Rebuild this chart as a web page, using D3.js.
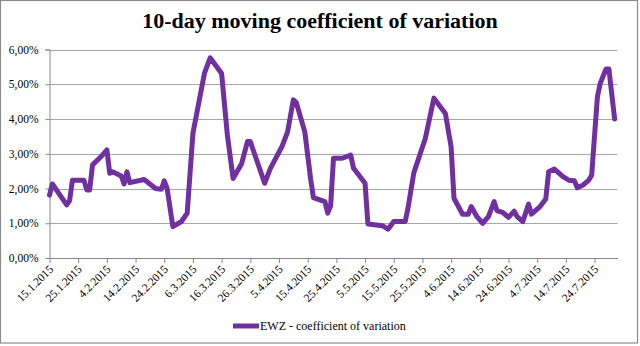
<!DOCTYPE html>
<html lang="en">
<head>
    <meta charset="UTF-8">
    <style>
        body { margin: 0; background: #fff; }
        text { font-family: "Liberation Serif", "Times New Roman", serif; fill: #000; }
        .title { font-size: 22px; font-weight: bold; text-anchor: middle; }
        .axis text { font-size: 11.5px; }
        .grid line { stroke: #a6a6a6; stroke-width: 1; }
    </style>
    <script src="https://d3js.org/d3.v7.min.js"></script>
    <title>10-day moving coefficient of variation</title>
</head>
<body>
    <svg width="640" height="346"></svg>

    <script>

        // EWZ 10-day moving coefficient of variation, in percent
        var dates = ["15.1.2015", "16.1.2015", "21.1.2015", "22.1.2015", "23.1.2015", "27.1.2015", "28.1.2015",
                     "29.1.2015", "30.1.2015", "2.2.2015", "4.2.2015", "5.2.2015", "6.2.2015", "9.2.2015",
                     "10.2.2015", "11.2.2015", "12.2.2015", "17.2.2015", "21.2.2015", "23.2.2015", "24.2.2015",
                     "25.2.2015", "27.2.2015", "2.3.2015", "4.3.2015", "6.3.2015", "10.3.2015", "12.3.2015",
                     "16.3.2015", "18.3.2015", "20.3.2015", "23.3.2015", "25.3.2015", "26.3.2015", "28.3.2015",
                     "31.3.2015", "2.4.2015", "6.4.2015", "8.4.2015", "10.4.2015", "11.4.2015", "14.4.2015",
                     "16.4.2015", "17.4.2015", "21.4.2015", "22.4.2015", "23.4.2015", "24.4.2015", "27.4.2015",
                     "30.4.2015", "1.5.2015", "5.5.2015", "6.5.2015", "11.5.2015", "13.5.2015", "15.5.2015",
                     "19.5.2015", "20.5.2015", "22.5.2015", "26.5.2015", "29.5.2015", "2.6.2015", "4.6.2015",
                     "5.6.2015", "8.6.2015", "10.6.2015", "11.6.2015", "13.6.2015", "15.6.2015", "17.6.2015",
                     "19.6.2015", "20.6.2015", "22.6.2015", "24.6.2015", "26.6.2015", "27.6.2015", "29.6.2015",
                     "1.7.2015", "2.7.2015", "5.7.2015", "7.7.2015", "8.7.2015", "10.7.2015", "13.7.2015",
                     "15.7.2015", "17.7.2015", "18.7.2015", "20.7.2015", "22.7.2015", "23.7.2015", "25.7.2015",
                     "26.7.2015", "28.7.2015", "29.7.2015", "31.7.2015"];

        var values = [1.81, 2.13, 1.53, 1.65, 2.24, 2.24, 1.96,
                      1.96, 2.68, 2.92, 3.11, 2.44, 2.48, 2.36,
                      2.13, 2.48, 2.17, 2.26, 2.00, 1.98, 2.22,
                      2.00, 0.90, 1.05, 1.29, 3.59, 5.31, 5.76,
                      5.31, 3.54, 2.29, 2.72, 3.35, 3.35, 2.87,
                      2.15, 2.58, 3.20, 3.63, 4.55, 4.48, 3.63,
                      2.29, 1.74, 1.62, 1.29, 1.50, 2.87, 2.87,
                      2.96, 2.58, 2.15, 0.98, 0.93, 0.83, 1.05,
                      1.05, 1.45, 2.45, 3.44, 4.60, 4.16, 3.20,
                      1.72, 1.26, 1.26, 1.48, 1.19, 1.00, 1.19,
                      1.62, 1.36, 1.31, 1.17, 1.35, 1.19, 1.05,
                      1.55, 1.26, 1.48, 1.70, 2.48, 2.56, 2.34,
                      2.24, 2.22, 2.02, 2.10, 2.24, 2.39, 4.64,
                      5.03, 5.44, 5.44, 4.00];

        var xTickLabels = ["15.1.2015", "25.1.2015", "4.2.2015", "14.2.2015", "24.2.2015", "6.3.2015", "16.3.2015",
                           "26.3.2015", "5.4.2015", "15.4.2015", "25.4.2015", "5.5.2015", "15.5.2015", "25.5.2015",
                           "4.6.2015", "14.6.2015", "24.6.2015", "4.7.2015", "14.7.2015", "24.7.2015"];
        var yTicks = [0, 1, 2, 3, 4, 5, 6];

        var seriesName = "EWZ - coefficient of variation";
        var titleText = "10-day moving coefficient of variation";

        var svg = d3.select("svg"),
            width = +svg.attr("width"),
            height = +svg.attr("height");

        var plot = { left: 49.5, right: 617.5, top: 49.5, bottom: 258 };

        var parseDate = d3.timeParse("%d.%m.%Y");
        var data = dates.map(function(d, i) { return { date: parseDate(d), value: values[i] }; });

        // comma decimal percent labels
        var locale = d3.formatLocale({ decimal: ",", thousands: ".", grouping: [3], currency: ["", ""] });
        var fmt = locale.format(".2f");

        var x = d3.scaleTime()
                  .domain([parseDate("15.1.2015"), parseDate("1.8.2015")])
                  .range([plot.left, plot.right]);

        var y = d3.scaleLinear()
                  .domain([0, 6])
                  .range([plot.bottom, plot.top]);

        // outer frame
        svg.append("rect")
           .attr("x", 0.5).attr("y", 0.5)
           .attr("width", 637).attr("height", 342.5)
           .attr("fill", "none")
           .attr("stroke", "#8c8c8c")
           .attr("stroke-width", 1.2);

        svg.append("text")
           .attr("class", "title")
           .attr("x", 320)
           .attr("y", 28)
           .text(titleText);

        // horizontal gridlines
        svg.append("g")
           .attr("class", "grid")
           .selectAll("line")
           .data(yTicks.slice(1))
           .enter().append("line")
           .attr("x1", plot.left).attr("x2", plot.right)
           .attr("y1", function(d) { return Math.round(y(d)) + 0.5; })
           .attr("y2", function(d) { return Math.round(y(d)) + 0.5; });

        // y axis
        var yAxis = svg.append("g")
           .attr("class", "axis")
           .attr("transform", "translate(" + plot.left + ",0)")
           .call(d3.axisLeft(y).tickValues(yTicks).tickSize(4).tickPadding(7)
                   .tickFormat(function(d) { return fmt(d) + "%"; }));
        yAxis.selectAll("path, line").attr("stroke", "#868686");
        yAxis.selectAll("text").attr("dy", "0.32em");

        // x axis with rotated date labels
        var xAxis = svg.append("g")
           .attr("class", "axis")
           .attr("transform", "translate(0," + plot.bottom + ")")
           .call(d3.axisBottom(x).tickValues(xTickLabels.map(parseDate)).tickSize(5).tickSizeOuter(0)
                   .tickFormat(d3.timeFormat("%-d.%-m.%Y")));
        xAxis.selectAll("path, line").attr("stroke", "#868686");
        xAxis.selectAll("text")
             .attr("text-anchor", "end")
             .attr("dy", null)
             .attr("y", 0)
             .attr("transform", "translate(4,12) rotate(-45)");

        // the series line
        var line = d3.line()
                     .x(function(d) { return x(d.date); })
                     .y(function(d) { return y(d.value); });

        svg.append("path")
           .datum(data)
           .attr("d", line)
           .attr("fill", "none")
           .attr("stroke", "#7030a0")
           .attr("stroke-width", 5)
           .attr("stroke-linejoin", "round")
           .attr("stroke-linecap", "round");

        // legend
        var legend = svg.append("g").attr("transform", "translate(233,326)");
        legend.append("line")
              .attr("x1", 0).attr("x2", 26)
              .attr("stroke", "#7030a0")
              .attr("stroke-width", 5);
        legend.append("text")
              .attr("x", 27)
              .attr("y", 4)
              .style("font-size", "12px")
              .text(seriesName);

    </script>
</body>
</html>
